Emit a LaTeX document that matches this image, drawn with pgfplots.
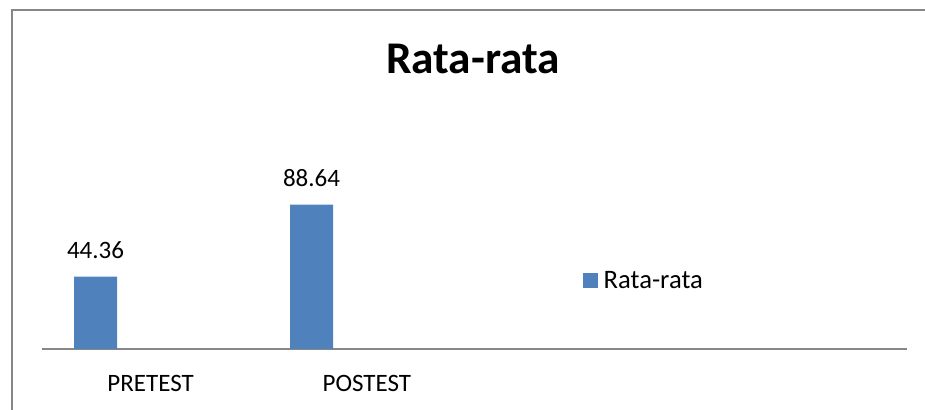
\documentclass[border=0pt]{standalone}
\usepackage{fontspec}
\setmainfont{Carlito}
\usepackage{pgfplots}
\pgfplotsset{compat=1.18}
\definecolor{barblue}{HTML}{4F81BD}
\definecolor{axisgray}{HTML}{878787}
\begin{document}
\begin{tikzpicture}
\useasboundingbox (0,0) rectangle (693.75pt,307.5pt);
\draw[axisgray, line width=1.5pt] (8.85pt,0pt) -- (8.85pt,300.15pt);
\draw[axisgray, line width=1.5pt] (8.1pt,300.15pt) -- (693.75pt,300.15pt);
\node[anchor=base, font=\fontsize{34}{40}\selectfont\bfseries] at (354.75pt,252pt) {Rata-rata};
\begin{axis}[
  at={(31.5pt,45.75pt)}, anchor=south west,
  scale only axis, width=648.75pt, height=122.25pt,
  xmin=42, xmax=907, ymin=0, ymax=100,
  axis x line=bottom, axis y line=none,
  axis line style={-, axisgray, line width=1.5pt},
  major tick length=0pt,
  xtick={150.6,366.9}, xticklabels={PRETEST,POSTEST},
  xticklabel style={anchor=base, yshift=-32.25pt, font=\fontsize{18.75}{22}\selectfont},
  ytick=\empty,
  clip=false,
  legend style={at={(axis cs:583,42.0)}, anchor=west, draw=none, fill=none, inner sep=0pt, outer sep=0pt,
    font=\fontsize{20}{24}\selectfont},
  legend image code/.code={\fill[barblue] (0pt,-5.6pt) rectangle (11.25pt,5.6pt);},
]
\addplot[ybar, fill=barblue, draw=none, bar width=43,
  point meta=explicit symbolic,
  nodes near coords={\pgfplotspointmeta},
  nodes near coords style={anchor=base, yshift=13.5pt, font=\fontsize{18.75}{22}\selectfont, inner sep=0pt}]
  coordinates {(95.5,44.36) [44.36] (311.5,88.64) [88.64]};
\addlegendentry{\hspace{2.25pt}Rata-rata}
\end{axis}
\end{tikzpicture}
\end{document}
